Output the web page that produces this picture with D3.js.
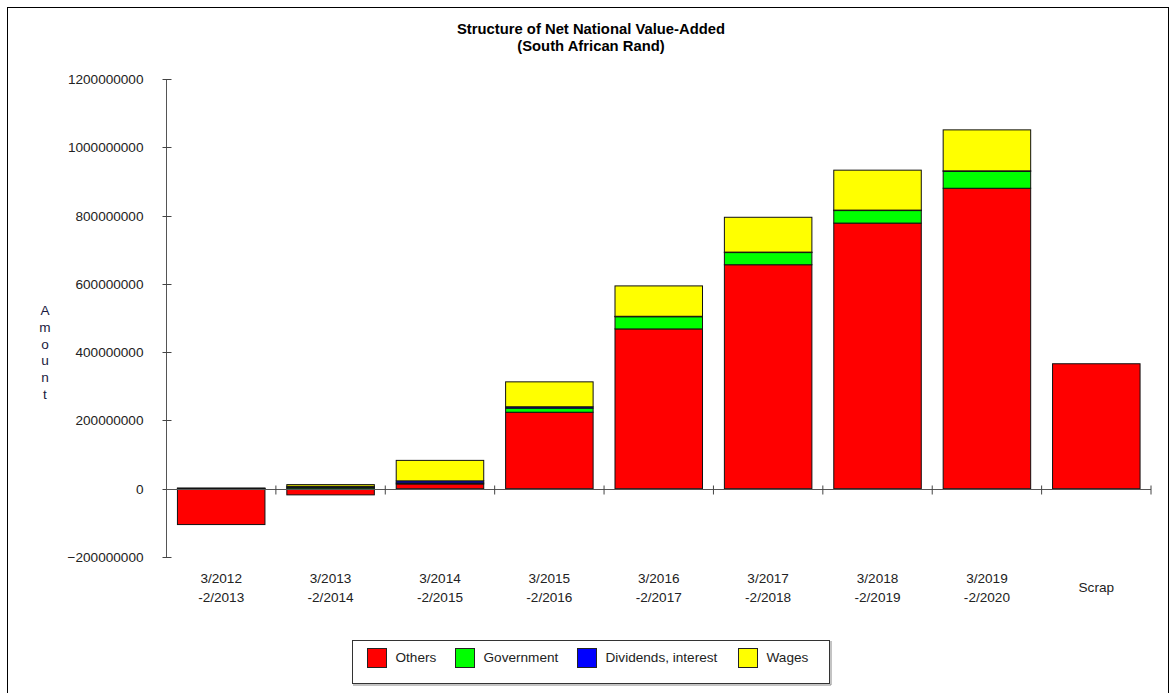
<!DOCTYPE html>
<html>
<head>
<meta charset="utf-8">
<script src="https://cdn.jsdelivr.net/npm/d3@7"></script>
<style>
  body { margin: 0; background: #fff; }
  text { font-family: Arial, "Liberation Sans", sans-serif; }
</style>
</head>
<body>
<div id="chart"></div>
<script>
// Data (values in Rand)
const categories = ["3/2012\n-2/2013", "3/2013\n-2/2014", "3/2014\n-2/2015", "3/2015\n-2/2016",
                    "3/2016\n-2/2017", "3/2017\n-2/2018", "3/2018\n-2/2019", "3/2019\n-2/2020", "Scrap"];
const seriesNames = ["Others", "Government", "Dividends, interest", "Wages"];
const others     = [-105e6, -18e6, 14e6, 224e6, 468e6, 656e6, 778e6, 880e6, 366e6];
const government = [1e6, 4e6, 3e6, 12e6, 36e6, 36e6, 37e6, 50e6, 0];
const dividends  = [1e6, 3e6, 6e6, 4e6, 1e6, 1e6, 1e6, 1e6, 0];
const wages      = [0, 5e6, 60e6, 73e6, 89e6, 102e6, 117e6, 120e6, 0];
const yTicks = [-200000000, 0, 200000000, 400000000, 600000000, 800000000, 1000000000, 1200000000];
const colors = ["#ff0000", "#00ff00", "#0000ff", "#ffff00"];

const W = 1171, H = 693;
const fs = "13.6px";
const svg = d3.select("#chart").append("svg")
  .attr("width", W)
  .attr("height", H);

// outer frame
svg.append("rect")
  .attr("x", 7.5).attr("y", 7.5)
  .attr("width", 1161).attr("height", 690)
  .attr("fill", "none").attr("stroke", "#000");

// Title
svg.append("text").attr("x", 591).attr("y", 34).attr("text-anchor", "middle")
  .style("font-size", "14.8px").style("font-weight", "bold").text("Structure of Net National Value-Added");
svg.append("text").attr("x", 591).attr("y", 51).attr("text-anchor", "middle")
  .style("font-size", "14.8px").style("font-weight", "bold").text("(South African Rand)");

// Scales
const x = d3.scaleBand()
  .domain(categories)
  .range([166.5, 1151])
  .paddingInner(0.2)
  .paddingOuter(0.1);

const y = d3.scaleLinear()
  .domain([-200000000, 1200000000])
  .range([557, 79]);

// Stack, positive values go up, negatives down
const table = categories.map((c, i) => ({ cat: c, values: [others[i], government[i], dividends[i], wages[i]] }));
const segments = [];
table.forEach(row => {
  let pos = 0, neg = 0;
  row.values.forEach((v, k) => {
    if (v === 0) return;
    if (v > 0) { segments.push({ cat: row.cat, k, y0: pos, y1: pos + v }); pos += v; }
    else { segments.push({ cat: row.cat, k, y0: neg + v, y1: neg }); neg += v; }
  });
});

// Bars
svg.append("g")
  .selectAll("rect")
  .data(segments)
  .join("rect")
    .attr("x", d => x(d.cat))
    .attr("y", d => y(d.y1))
    .attr("width", x.bandwidth())
    .attr("height", d => Math.max(0.5, y(d.y0) - y(d.y1)))
    .attr("fill", d => colors[d.k])
    .attr("stroke", "#111")
    .attr("stroke-width", 1);

// Y axis
const yAxis = svg.append("g").attr("transform", "translate(166.5,0)");
yAxis.append("line").attr("y1", y(1200000000)).attr("y2", y(-200000000)).attr("stroke", "#555");
yAxis.selectAll(".tk").data(yTicks).join("line")
  .attr("x1", -4).attr("x2", 5)
  .attr("y1", d => Math.round(y(d)) + 0.5).attr("y2", d => Math.round(y(d)) + 0.5)
  .attr("stroke", "#444");
yAxis.selectAll("text").data(yTicks).join("text")
  .attr("x", -23).attr("y", d => y(d) + 5)
  .attr("text-anchor", "end")
  .style("font-size", fs).attr("fill", "#222")
  .text(d => d3.format("d")(d));

// X axis along zero
const x0 = Math.round(y(0)) + 0.5;
svg.append("line").attr("x1", 166.5).attr("x2", 1151).attr("y1", x0).attr("y2", x0).attr("stroke", "#555");
const step = x.step();
svg.selectAll(".xt").data(categories).join("line")
  .attr("x1", (d, i) => x(d) - step * 0.1 + step).attr("x2", (d, i) => x(d) - step * 0.1 + step)
  .attr("y1", x0 - 4).attr("y2", x0 + 5)
  .attr("stroke", "#444");

const xLabels = svg.append("g");
categories.forEach(c => {
  const lines = c.split("\n");
  const cx = x(c) + x.bandwidth() / 2;
  lines.forEach((l, j) => {
    xLabels.append("text")
      .attr("x", cx)
      .attr("y", lines.length === 1 ? 592 : 583 + j * 19)
      .attr("text-anchor", "middle")
      .style("font-size", fs).attr("fill", "#222")
      .text(l);
  });
});

// Y axis title as stacked letters
svg.append("g").selectAll("text")
  .data("Amount".split(""))
  .join("text")
    .attr("x", 45).attr("y", (d, i) => 315 + i * 16.8)
    .attr("text-anchor", "middle")
    .style("font-size", fs).attr("fill", "#1a1a40")
    .text(d => d);

// Legend
const legend = svg.append("g");
legend.append("rect")
  .attr("x", 352.5).attr("y", 640.5).attr("width", 477).attr("height", 43)
  .attr("fill", "#fff").attr("stroke", "#333");
legend.append("line").attr("x1", 353).attr("x2", 831).attr("y1", 685).attr("y2", 685).attr("stroke", "#888");
legend.append("line").attr("x1", 831).attr("x2", 831).attr("y1", 641).attr("y2", 685).attr("stroke", "#888");
const legendX = [367.5, 455.5, 577.5, 738.5];
const item = legend.selectAll(".legend-item")
  .data(seriesNames)
  .join("g")
    .attr("class", "legend-item")
    .attr("transform", (d, i) => `translate(${legendX[i]},648.5)`);
item.append("rect")
  .attr("width", 19).attr("height", 19)
  .attr("fill", (d, i) => colors[i])
  .attr("stroke", "#222");
item.append("text")
  .attr("x", 28).attr("y", 13.5)
  .style("font-size", fs).attr("fill", "#222")
  .text(d => d);
</script>
</body>
</html>
